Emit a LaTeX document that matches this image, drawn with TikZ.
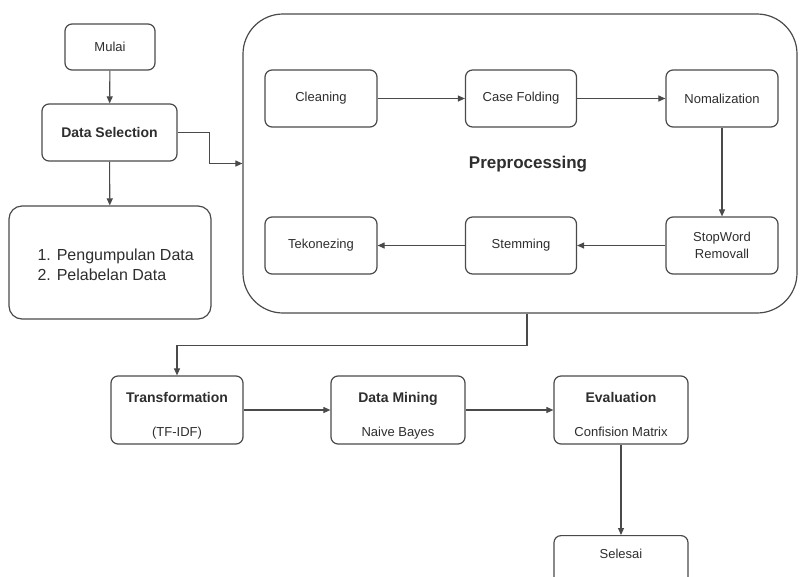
\documentclass[tikz,border=0pt]{standalone}
\usepackage{fontspec}
\setmainfont{Liberation Sans}
\usetikzlibrary{arrows.meta,positioning,calc}
\definecolor{ln}{HTML}{4A4A4A}
\definecolor{tx}{HTML}{2E2E2E}
\tikzset{
  box/.style={draw=ln, line width=1.2pt, rounded corners=7pt, fill=white, inner sep=0pt, text=tx, font=\fontsize{13}{14.5}\selectfont, align=center},
  ttl/.style={text=tx, font=\bfseries\fontsize{14}{16}\selectfont, text height=10pt, text depth=3pt, inner sep=0pt},
  sub/.style={text=tx, font=\fontsize{13}{14.5}\selectfont, text height=9.5pt, text depth=3pt, inner sep=0pt},
  arr/.style={draw=ln, line width=1.1pt, -{Triangle[length=7pt,width=6pt]}},
}
\begin{document}
\begin{tikzpicture}[x=1pt,y=-1pt]
\clip (0,0) rectangle (800,576);
\fill[white] (0,0) rectangle (800,576);
% left column
\node[box, minimum width=90pt, minimum height=46pt] (mulai) at (110,47) {Mulai};
\node[box, minimum width=135pt, minimum height=57pt, font=\bfseries\fontsize{14}{16}\selectfont] (dsel) at (109.5,132.5) {Data Selection};
\node[box, rounded corners=13pt, minimum width=202pt, minimum height=113pt] (list) at (110,262.5) {};
\node[text=tx, font=\fontsize{16}{20}\selectfont, align=left, anchor=west] (listtxt) at (34,265) {1. Pengumpulan Data\\2. Pelabelan Data};
% preprocessing container
\node[box, rounded corners=40pt, minimum width=554pt, minimum height=299pt] (pre) at (520,163.5) {};
\node[ttl, font=\bfseries\fontsize{17}{20}\selectfont] (pretitle) at (528,165) {Preprocessing};
\node[box, minimum width=112pt, minimum height=57pt] (clean) at (321,98.5) {Cleaning};
\node[box, minimum width=111pt, minimum height=57pt] (case) at (521,98.5) {Case Folding};
\node[box, minimum width=112pt, minimum height=57pt] (norm) at (722,98.5) {Nomalization};
\node[box, minimum width=112pt, minimum height=57pt] (stop) at (722,245.5) {StopWord\\[3pt]Removall};
\node[box, minimum width=111pt, minimum height=57pt] (stem) at (521,245.5) {Stemming};
\node[box, minimum width=112pt, minimum height=57pt] (token) at (321,245.5) {Tekonezing};
% bottom row
\node[box, minimum width=132pt, minimum height=68pt] (trans) at (177,410) {};
\node[ttl] (transt) at ([yshift=11pt]trans.center) {Transformation};
\node[sub] (transs) at ([yshift=-23pt]trans.center) {(TF-IDF)};
\node[box, minimum width=134pt, minimum height=68pt] (dm) at (398,410) {};
\node[ttl] (dmt) at ([yshift=11pt]dm.center) {Data Mining};
\node[sub] (dms) at ([yshift=-23pt]dm.center) {Naive Bayes};
\node[box, minimum width=134pt, minimum height=68pt] (eval) at (621,410) {};
\node[ttl] (evalt) at ([yshift=11pt]eval.center) {Evaluation};
\node[sub] (evals) at ([yshift=-23pt]eval.center) {Confision Matrix};
\node[box, minimum width=134pt, minimum height=60pt, anchor=north] (sel) at (621,535) {};
\node[sub] (selt) at (621,555) {Selesai};
% connectors
\draw[arr] (mulai) -- (dsel);
\draw[arr] (dsel) -- (list);
\draw[arr] (dsel.east) -- ++(32,0) |- (pre.west);
\draw[arr] (clean) -- (case);
\draw[arr] (case) -- (norm);
\draw[arr] (norm) -- (stop);
\draw[arr] (stop) -- (stem);
\draw[arr] (stem) -- (token);
\draw[arr] ([xshift=7pt]pre.south) -- ++(0,32) -| (trans.north);
\draw[arr] (trans) -- (dm);
\draw[arr] (dm) -- (eval);
\draw[arr] (eval) -- (sel);
\end{tikzpicture}
\end{document}
